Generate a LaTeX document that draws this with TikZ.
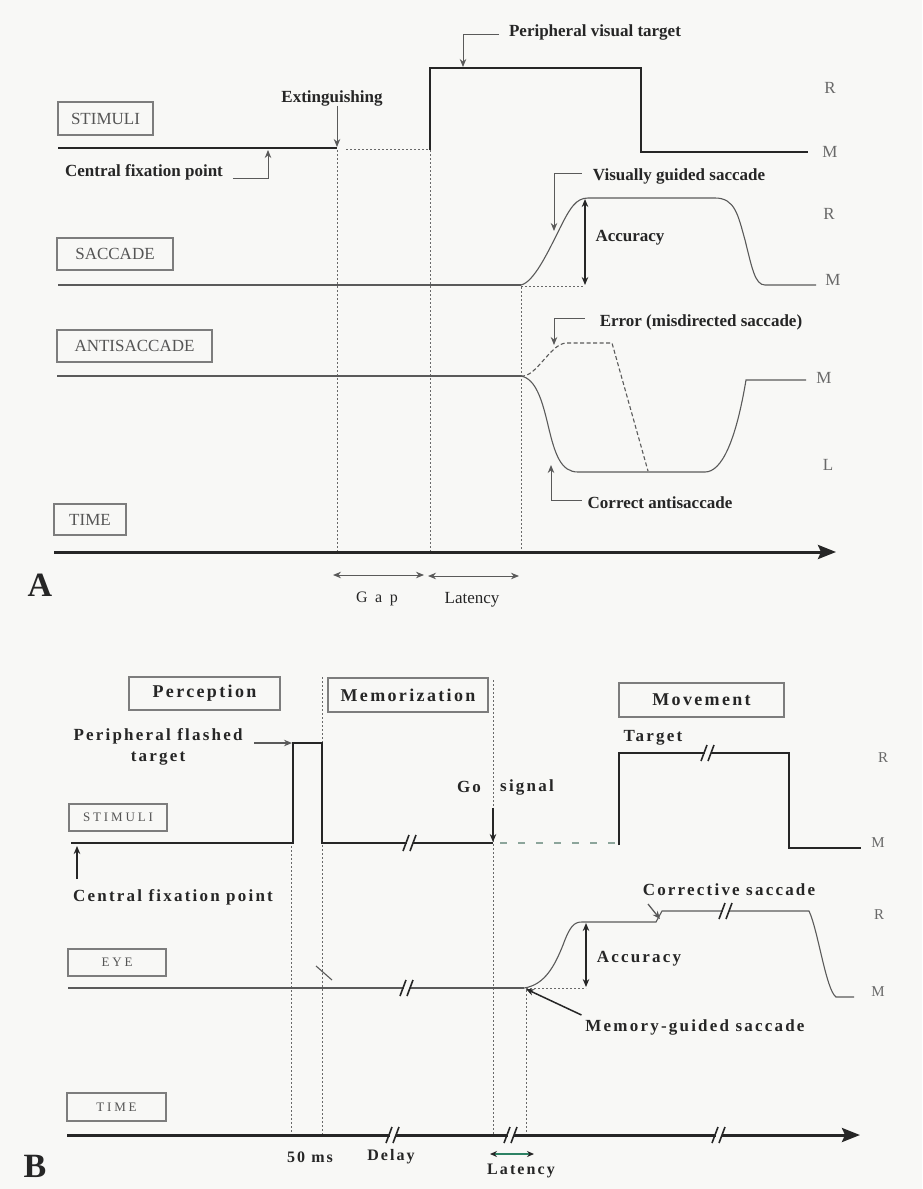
\documentclass[tikz,border=0pt]{standalone}
\usepackage{fontspec}
\setmainfont{Liberation Serif}
\newfontfamily\spaced[LetterSpace=13]{Liberation Serif}
\newfontfamily\wide[LetterSpace=22]{Liberation Serif}
\usetikzlibrary{arrows.meta}

\definecolor{paper}{RGB}{248,248,246}
\definecolor{ink}{RGB}{38,38,38}
\definecolor{tracec}{RGB}{90,90,90}
\definecolor{guidec}{RGB}{105,105,105}
\definecolor{boxline}{RGB}{125,125,125}
\definecolor{boxtext}{RGB}{85,85,85}
\definecolor{sidec}{RGB}{105,105,105}
\definecolor{latgreen}{RGB}{45,130,100}
\definecolor{gogreen}{RGB}{140,165,155}

\begin{document}
\begin{tikzpicture}[x=1pt,y=-1pt,
  every node/.style={inner sep=0pt, outer sep=0pt},
  lab/.style={font=\bfseries\fontsize{17}{19}\selectfont, text=ink},
  plain/.style={font=\fontsize{17}{19}\selectfont, text=ink},
  sidelab/.style={font=\fontsize{17}{19}\selectfont, text=sidec},
  sidesm/.style={font=\fontsize{15}{17}\selectfont, text=sidec},
  blab/.style={font=\spaced\bfseries\fontsize{17}{21}\selectfont, text=ink, align=center},
  bsmall/.style={font=\spaced\bfseries\fontsize{16}{19}\selectfont, text=ink},
  tagbox/.style={draw=boxline, line width=1.2pt, text=boxtext, font=\fontsize{17}{19}\selectfont},
  tagboxsm/.style={tagbox, font=\wide\fontsize{13}{15}\selectfont},
  phase/.style={tagbox, text=ink, font=\spaced\bfseries\fontsize{18}{20}\selectfont},
  stim/.style={line width=2.6pt, draw=ink, line join=miter},
  trace/.style={line width=1.1pt, draw=tracec},
  base/.style={line width=1.4pt, draw=tracec},
  guide/.style={line width=0.9pt, draw=guidec, dash pattern=on 2pt off 2pt},
  conn/.style={line width=1pt, draw=tracec},
  tip/.style={-{Stealth[length=8pt,width=6.5pt]}},
  twotip/.style={{Stealth[length=8pt,width=6.5pt]}-{Stealth[length=8pt,width=6.5pt]}},
  axis/.style={line width=3pt, draw=ink, -{Stealth[length=18pt,width=14pt,inset=3pt]}},
  brk/.pic={\fill[paper] (-3,-6) rectangle (3,6);
            \draw[line width=1.6pt, ink] (-7,8) -- (-1,-8) (0,8) -- (6,-8);}
]
\fill[paper] (0,0) rectangle (922,1189);
\useasboundingbox (0,0) rectangle (922,1189);

% ================= Part A : gap paradigm =================
% row labels
\node[tagbox, minimum width=95pt, minimum height=33pt] (stimA) at (105.5,118.5) {STIMULI};
\node[tagbox, minimum width=116pt, minimum height=32pt] (sacA) at (115,254) {SACCADE};
\node[tagbox, minimum width=155pt, minimum height=32pt] (antiA) at (134.5,346) {ANTISACCADE};
\node[tagbox, minimum width=72pt, minimum height=31pt] (timeA) at (90,519.5) {TIME};

% event markers
\draw[guide] (337,150) -- (337,551);
\draw[guide] (430,150) -- (430,551);
\draw[guide] (521,287) -- (521,551);
\draw[guide] (346,149) -- (430,149);

% stimulus trace
\draw[stim] (58,148) -- (337,148);
\draw[stim] (430,150) -- (430,68) -- (641,68) -- (641,152) -- (808,152);
\node[sidelab] (RA1) at (830,88) {R};
\node[sidelab] (MA1) at (830,152) {M};

% saccade trace
\draw[base] (58,285) -- (521,285);
\draw[guide] (521,286) -- (584,286);
\draw[trace] (521,285) .. controls (534,282) and (548,252) .. (560,228)
  .. controls (570,208) and (576,198) .. (588,198) -- (715,198)
  .. controls (735,198) and (738,215) .. (745,240)
  .. controls (752,268) and (755,285) .. (765,285) -- (816,285);
\node[sidelab] (RA2) at (829,214) {R};
\node[sidelab] (MA2) at (833,280) {M};

% antisaccade trace
\draw[base] (57,376) -- (521,376);
\draw[trace] (521,376) .. controls (536,379) and (542,400) .. (548,425)
  .. controls (555,455) and (561,472) .. (578,472) -- (705,472)
  .. controls (722,472) and (736,440) .. (746,380) -- (806,380);
\draw[trace, dash pattern=on 4pt off 2.5pt] (521,376) .. controls (536,378) and (550,344) .. (566,343)
  -- (612,343) -- (648,471);
\node[sidelab] (MA3) at (824,378) {M};
\node[sidelab] (LA) at (828,465) {L};

% time axis
\coordinate (axA0) at (54,552);
\coordinate (axA1) at (836,552);
\draw[axis] (axA0) -- (axA1);
\node[font=\bfseries\fontsize{34}{36}\selectfont, text=ink] (labA) at (40,585) {A};

% annotations
\coordinate (eTip) at (337,147);
\node[lab] (extTxt) at (332,98) {Extinguishing};
\draw[conn, tip] (extTxt.south -| eTip) -- (eTip);

\coordinate (cfpTip) at (268,150);
\node[lab] (cfpA) at (144,172) {Central fixation point};
\draw[conn, tip] ([shift={(10,6)}]cfpA.east) -| (cfpTip);

\coordinate (pvtTip) at (463,67);
\node[lab] (pvtTxt) at (595,32) {Peripheral visual target};
\draw[conn, tip] ([shift={(-10,2)}]pvtTxt.west) -| (pvtTip);

\coordinate (vgsTip) at (554,231);
\node[lab] (vgsTxt) at (679,176) {Visually guided saccade};
\draw[conn, tip] ([shift={(-11,-3)}]vgsTxt.west) -| (vgsTip);

\coordinate (accTop) at (585,199);
\coordinate (accBot) at (585,285);
\draw[line width=1.3pt, draw=ink, twotip] (accTop) -- (accBot);
\node[lab] (accA) at (630,238) {Accuracy};

\coordinate (errTip) at (554,345);
\node[lab] (errTxt) at (701,322) {Error (misdirected saccade)};
\draw[conn, tip] ([shift={(-15,-4)}]errTxt.west) -| (errTip);

\coordinate (casTip) at (551,465);
\node[lab] (casTxt) at (660,503) {Correct antisaccade};
\draw[conn, tip] ([shift={(-6,-3)}]casTxt.west) -| (casTip);

\coordinate (gapL) at (333,575);
\coordinate (gapR) at (424,575);
\coordinate (latL) at (428,576);
\coordinate (latR) at (519,576);
\draw[conn, twotip] (gapL) -- (gapR);
\draw[conn, twotip] (latL) -- (latR);
\node[font=\wide\fontsize{16}{18}\selectfont, text=ink] (gapTxt) at (377,599) {G a p};
\node[plain] (latA) at (472,600) {Latency};

% ================= Part B : memory-guided paradigm =================
\node[phase, minimum width=151pt, minimum height=33pt] (perc) at (204.5,693.5) {Perception};
\node[phase, minimum width=160pt, minimum height=34pt] (memo) at (408,695) {Memorization};
\node[phase, minimum width=165pt, minimum height=34pt] (move) at (701.5,700) {Movement};
\node[tagboxsm, minimum width=98pt, minimum height=27pt] (stimB) at (118,817.5) {STIMULI};
\node[tagboxsm, minimum width=98pt, minimum height=27pt] (eyeB) at (117,962.5) {EYE};
\node[tagboxsm, minimum width=99pt, minimum height=28pt] (timeB) at (116.5,1107) {TIME};

% epoch boundaries
\draw[guide] (291,846) -- (291,1134);
\draw[guide] (322,677) -- (322,1134);
\draw[guide] (493,680) -- (493,1134);
\draw[guide] (526,990) -- (526,1134);

% stimulus trace
\draw[stim] (71,843) -- (293,843) -- (293,743) -- (322,743) -- (322,843) -- (493,843);
\pic at (410,843) {brk};
\draw[line width=2pt, draw=gogreen, dash pattern=on 7pt off 11pt] (500,843) -- (616,843);
\draw[stim] (619,845) -- (619,753) -- (789,753) -- (789,848) -- (861,848);
\pic at (708,753) {brk};
\node[sidesm] (RB1) at (883,758) {R};
\node[sidesm] (MB1) at (878,843) {M};

% eye trace
\draw[base] (68,988) -- (524,988);
\draw[trace] (316,966) -- (332,980);
\pic at (407,988) {brk};
\draw[guide] (526,988) -- (586,988);
\draw[trace] (524,988) .. controls (545,985) and (555,965) .. (563,945)
  .. controls (570,926) and (574,922) .. (582,922) -- (656,922) -- (662,911) -- (809,911)
  .. controls (818,930) and (826,990) .. (836,997) -- (854,997);
\pic at (726,911) {brk};
\node[sidesm] (RB2) at (879,915) {R};
\node[sidesm] (MB2) at (878,992) {M};

% time axis
\coordinate (axB0) at (67,1135);
\coordinate (axB1) at (860,1135);
\draw[axis] (axB0) -- (axB1);
\pic at (393,1135) {brk};
\pic at (511,1135) {brk};
\pic at (719,1135) {brk};
\node[font=\bfseries\fontsize{34}{36}\selectfont, text=ink] (labB) at (35,1166) {B};

% annotations
\coordinate (pftTip) at (292,743);
\node[blab] (pftTxt) at (158,747) {Peripheral flashed\\target};
\draw[conn, line width=1.3pt, tip] ([xshift=12pt]pftTxt.east |- pftTip) -- (pftTip);

\coordinate (cfpBTip) at (77,846);
\node[blab] (cfpB) at (173,897) {Central fixation point};
\draw[line width=1.8pt, draw=ink, tip] ([shift={(0,-10)}]cfpBTip |- cfpB.north) -- (cfpBTip);

\node[blab] (tgtTxt) at (653,738) {Target};

\coordinate (goTip) at (493,842);
\node[blab] (goTxt) at (469,787) {Go};
\node[blab] (sigTxt) at (527,787) {signal};
\draw[line width=2pt, draw=ink, tip] (goTip |- sigTxt.south) ++(0,13) -- (goTip);

\coordinate (corTip) at (660,919);
\node[blab] (corTxt) at (729,890) {Corrective saccade};
\draw[conn, line width=1.3pt, tip] ([shift={(-81,14)}]corTxt.center) -- (corTip);

\coordinate (accBTop) at (586,923);
\coordinate (accBBot) at (586,987);
\draw[line width=1.3pt, draw=ink, twotip] (accBTop) -- (accBBot);
\node[blab] (accB) at (639,959) {Accuracy};

\coordinate (mgsTip) at (526,989);
\node[blab] (mgsTxt) at (695,1027) {Memory-guided saccade};
\draw[line width=1.5pt, draw=ink, tip] ([shift={(-4,-12)}]mgsTxt.west) -- (mgsTip);

\node[bsmall] (ms50) at (310,1157) {50 ms};
\node[bsmall] (delay) at (391,1157) {Delay};
\coordinate (latBL) at (490,1154);
\coordinate (latBR) at (534,1154);
\draw[line width=1.3pt, draw=latgreen, {Stealth[length=7pt,width=6pt,color=ink]}-{Stealth[length=7pt,width=6pt,color=ink]}] (latBL) -- (latBR);
\node[bsmall] (latB) at (521,1171) {Latency};
\end{tikzpicture}
\end{document}
